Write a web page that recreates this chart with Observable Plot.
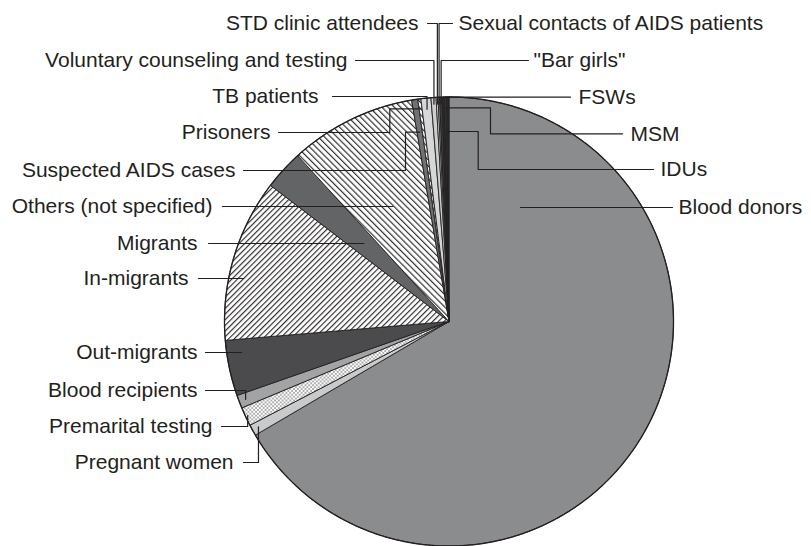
<!DOCTYPE html>
<html><head><meta charset="utf-8">
<script src="https://cdn.jsdelivr.net/npm/d3@7"></script>
<script src="https://cdn.jsdelivr.net/npm/@observablehq/plot@0.6"></script>
<style>body{margin:0;background:#fff}svg{display:block}</style>
</head><body><div id="chart"></div>
<script>
// ---- data (percent of total; clockwise from 12 o'clock)
const categories = ["Blood donors","Pregnant women","Premarital testing","Blood recipients","Out-migrants","In-migrants","Migrants","Others (not specified)","Suspected AIDS cases","Prisoners","TB patients","Voluntary counseling and testing","STD clinic attendees","Sexual contacts of AIDS patients","\"Bar girls\"","FSWs","MSM","IDUs"];
const shares = [66.5,0.8,1.36,0.94,4.0,11.7,2.86,9.1,0.44,0.22,0.72,0.36,0.14,0.11,0.19,0.17,0.14,0.17];

// ---- styles
const fills = ["#8b8c8e","#c9cacc","url(#dots)","#a2a3a5","#4b4b4d","url(#hatchR)","#636466","url(#hatchL)","#707173","url(#hatchL)","#d6d7d9","#cdced0","#e4e4e4","#bdbebf","#3a3a3a","#2b2b2b","#3a3a3a","#2b2b2b"];
const ink = "#231f20";

// ---- layout
const cx = 448.5, cy = 321, R = 224.5;
const labelLayout = [
  {name:"STD clinic attendees", side:"left", lx:418, ly:23, start:427, route:"hv", end:{polar:0.97}},
  {name:"Voluntary counseling and testing", side:"left", lx:347, ly:60, start:355, route:"hv", end:{polar:0.97}},
  {name:"TB patients", side:"left", lx:318, ly:96, start:332, route:"hv", end:{polar:0.95}},
  {name:"Prisoners", side:"left", lx:270, ly:132, start:278, route:"hvh", elbow:389.3, end:{rayY:108.3}},
  {name:"Suspected AIDS cases", side:"left", lx:235, ly:170, start:243, route:"hvh", elbow:405, end:{rayY:131.7}},
  {name:"Others (not specified)", side:"left", lx:212, ly:206, start:222, route:"h", end:{ray:true}},
  {name:"Migrants", side:"left", lx:197, ly:243, start:208, route:"h", end:{ray:true}},
  {name:"In-migrants", side:"left", lx:188, ly:278, start:198, route:"h", end:{inset:15}},
  {name:"Out-migrants", side:"left", lx:197, ly:352, start:205, route:"h", end:{inset:15}},
  {name:"Blood recipients", side:"left", lx:197, ly:390, start:205, route:"hv", end:{polar:0.97}},
  {name:"Premarital testing", side:"left", lx:212, ly:426, start:221, route:"hv", end:{polar:0.99}},
  {name:"Pregnant women", side:"left", lx:233, ly:462, start:243, route:"hv", end:{polar:0.97}},
  {name:"Sexual contacts of AIDS patients", side:"right", lx:458, ly:23, start:452, route:"hv", end:{polar:0.97}},
  {name:"\"Bar girls\"", side:"right", lx:533, ly:60, start:528, route:"hv", end:{polar:0.97}},
  {name:"FSWs", side:"right", lx:578, ly:96.7, start:570, route:"hv", end:{polar:1.0}},
  {name:"MSM", side:"right", lx:630, ly:133.3, start:622, route:"hvh", elbow:490, end:{rayY:107.3}},
  {name:"IDUs", side:"right", lx:660, ly:169, start:653, route:"hvh", elbow:477.7, end:{rayY:131}},
  {name:"Blood donors", side:"right", lx:678, ly:207, start:672, route:"h", end:{ray:true, af:0.134}}
];

// ---- geometry from the data
const data = categories.map((c, i) => ({category: c, value: shares[i], fill: fills[i]}));
const arcs = d3.pie().sort(null).value(d => d.value)(data);
const polar = (a, r) => ({x: cx + r * Math.sin(a), y: cy - r * Math.cos(a)});
function slicePoints(arc) {
  const pts = [{x: cx, y: cy}];
  const span = arc.endAngle - arc.startAngle;
  const n = Math.max(2, Math.ceil(span / (Math.PI / 360)));
  for (let k = 0; k <= n; k++) pts.push(polar(arc.startAngle + span * k / n, R));
  pts.push({x: cx, y: cy});
  return pts;
}
const circlePts = d3.range(0, 721).map(k => polar(k * Math.PI / 360, R));
function endpoint(arc, spec, ly, side) {
  const af = spec.af ?? 0.5;
  const a = arc.startAngle + af * (arc.endAngle - arc.startAngle);
  if (spec.polar != null) return polar(a, spec.polar * R);
  if (spec.ray || spec.rayY != null) {
    const y = spec.rayY ?? ly;
    const t = (cy - y) / Math.cos(a);
    return {x: cx + t * Math.sin(a), y};
  }
  const dx = Math.sqrt(R * R - (ly - cy) ** 2);
  return {x: side === "left" ? cx - dx + spec.inset : cx + dx - spec.inset, y: ly};
}
const leaders = labelLayout.map(L => {
  const arc = arcs[categories.indexOf(L.name)];
  const E = endpoint(arc, L.end, L.ly, L.side);
  const S = {x: L.start, y: L.ly};
  if (L.route === "h") return [S, {x: E.x, y: L.ly}];
  if (L.route === "hv") return [S, {x: E.x, y: L.ly}, E];
  return [S, {x: L.elbow, y: L.ly}, {x: L.elbow, y: E.y}, E];
});

const font = "'Liberation Sans', Arial, sans-serif";
const svg = Plot.plot({
  width: 811, height: 546, margin: 0,
  x: {domain: [0, 811], range: [0, 811], axis: null},
  y: {domain: [0, 546], range: [0, 546], axis: null},
  style: {background: "#fff"},
  marks: [
    ...arcs.map(a => Plot.line(slicePoints(a), {x: "x", y: "y", fill: a.data.fill, stroke: ink, strokeWidth: 0.9, strokeLinejoin: "round"})),
    Plot.line(circlePts, {x: "x", y: "y", stroke: ink, strokeWidth: 1.3}),
    ...leaders.map(pts => Plot.line(pts, {x: "x", y: "y", stroke: ink, strokeWidth: 1.2})),
    Plot.text(labelLayout.filter(d => d.side === "left"), {x: "lx", y: "ly", text: "name", textAnchor: "end", fontSize: 21, fontFamily: font, fill: ink}),
    Plot.text(labelLayout.filter(d => d.side === "right"), {x: "lx", y: "ly", text: "name", textAnchor: "start", fontSize: 21, fontFamily: font, fill: ink})
  ]
});

// patterns
const defs = d3.select(svg).insert("defs", ":first-child");
function hatch(id, size, angle) {
  const p = defs.append("pattern").attr("id", id).attr("patternUnits", "userSpaceOnUse")
    .attr("width", size).attr("height", size).attr("patternTransform", `rotate(${angle})`);
  p.append("rect").attr("width", size).attr("height", size).attr("fill", "#fff");
  p.append("line").attr("x1", 0.6).attr("y1", 0).attr("x2", 0.6).attr("y2", size).attr("stroke", ink).attr("stroke-width", 1.1);
}
hatch("hatchR", 4.0, 45);
hatch("hatchL", 4.4, -45);
const pd = defs.append("pattern").attr("id", "dots").attr("patternUnits", "userSpaceOnUse").attr("width", 3.8).attr("height", 3.8);
pd.append("rect").attr("width", 3.8).attr("height", 3.8).attr("fill", "#fff");
pd.append("circle").attr("cx", 0.95).attr("cy", 0.95).attr("r", 0.65).attr("fill", ink);
pd.append("circle").attr("cx", 2.85).attr("cy", 2.85).attr("r", 0.65).attr("fill", ink);

document.getElementById("chart").appendChild(svg);
</script>
</body></html>
